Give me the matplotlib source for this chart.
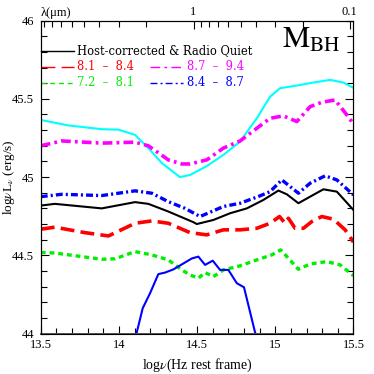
import numpy as np
import matplotlib
matplotlib.use("Agg")
import matplotlib.pyplot as plt
from matplotlib.ticker import MultipleLocator, FixedLocator

plt.rcParams['font.family'] = 'Liberation Serif'
plt.rcParams['mathtext.fontset'] = 'stix'
plt.rcParams['lines.scale_dashes'] = False

# SED curves: log nu (Hz), log nuL_nu (erg/s)
cyan_x = [13.5, 13.677, 13.89, 13.997, 14.103, 14.188, 14.274, 14.39, 14.456, 14.562,
          14.668, 14.775, 14.882, 14.967, 15.031, 15.138, 15.244, 15.351, 15.436, 15.5]
cyan_y = [45.365, 45.33, 45.306, 45.303, 45.27, 45.185, 45.09, 45.0, 45.014, 45.07,
          45.142, 45.227, 45.376, 45.514, 45.568, 45.585, 45.604, 45.621, 45.604, 45.57]

mag_x = [13.5, 13.634, 13.89, 14.103, 14.188, 14.316, 14.402, 14.455, 14.562, 14.668,
         14.775, 14.882, 14.967, 15.052, 15.138, 15.223, 15.298, 15.383, 15.458, 15.5]
mag_y = [45.2, 45.231, 45.217, 45.223, 45.2, 45.11, 45.084, 45.084, 45.11, 45.185,
         45.231, 45.312, 45.376, 45.391, 45.355, 45.45, 45.478, 45.493, 45.397, 45.34]

bdd_x = [13.5, 13.634, 13.89, 14.103, 14.21, 14.316, 14.423, 14.519, 14.668, 14.775,
         14.882, 14.967, 15.042, 15.148, 15.223, 15.319, 15.394, 15.5]
bdd_y = [44.875, 44.89, 44.882, 44.912, 44.897, 44.843, 44.8, 44.748, 44.812, 44.833,
         44.872, 44.907, 44.982, 44.897, 44.961, 45.008, 44.982, 44.886]

blk_x = [13.5, 13.59, 13.89, 14.103, 14.188, 14.316, 14.476, 14.498, 14.604, 14.711,
         14.818, 14.924, 15.02, 15.074, 15.148, 15.223, 15.308, 15.394, 15.5]
blk_y = [44.818, 44.829, 44.80, 44.84, 44.829, 44.78, 44.712, 44.70, 44.726, 44.769,
         44.80, 44.854, 44.914, 44.89, 44.833, 44.875, 44.922, 44.907, 44.79]

red_x = [13.5, 13.59, 13.783, 13.933, 14.103, 14.21, 14.316, 14.455, 14.562, 14.668,
         14.775, 14.882, 14.967, 15.027, 15.063, 15.084, 15.127, 15.18, 15.234, 15.298,
         15.372, 15.447, 15.5]
red_y = [44.667, 44.68, 44.645, 44.624, 44.705, 44.72, 44.705, 44.645, 44.631, 44.663,
         44.663, 44.673, 44.705, 44.748, 44.705, 44.737, 44.673, 44.673, 44.716, 44.748,
         44.731, 44.663, 44.585]

grn_x = [13.5, 13.59, 13.89, 13.975, 14.103, 14.21, 14.316, 14.402, 14.455, 14.508,
         14.551, 14.604, 14.668, 14.775, 14.882, 14.978, 15.035, 15.148, 15.223, 15.33,
         15.415, 15.5]
grn_y = [44.518, 44.515, 44.475, 44.478, 44.524, 44.503, 44.471, 44.407, 44.375, 44.354,
         44.39, 44.364, 44.407, 44.433, 44.471, 44.503, 44.535, 44.411, 44.445, 44.46,
         44.439, 44.37]

bsl_x = [14.1, 14.152, 14.199, 14.252, 14.295, 14.348, 14.466, 14.508, 14.551, 14.6,
         14.647, 14.7, 14.754, 14.8, 14.885]
bsl_y = [43.95, 44.162, 44.258, 44.38, 44.39, 44.41, 44.48, 44.492, 44.439, 44.466,
         44.407, 44.407, 44.322, 44.296, 43.95]

# top axis wavelengths (micron)
lam_major = [1.0, 0.1]
lam_labels = ['1', '0.1']
lam_minor = [9, 8, 7, 6, 5, 4, 3, 2, 0.9, 0.8, 0.7, 0.6, 0.5, 0.4, 0.3, 0.2]


def lam_to_lognu(lam):
    return np.log10(3e14 / np.asarray(lam, dtype=float))


fig = plt.figure(figsize=(3.74, 3.74), dpi=100)
ax = fig.add_axes([0.109, 0.108, 0.836, 0.837])

ax.plot(cyan_x, cyan_y, color='#00ffff', lw=1.5)
ax.plot(mag_x, mag_y, color='#ff00ff', lw=2.6, dashes=(7, 3, 2, 3))
ax.plot(bdd_x, bdd_y, color='#0000ff', lw=2.4, dashes=(5, 2.2, 1.5, 2.2))
ax.plot(blk_x, blk_y, color='black', lw=1.5)
ax.plot(red_x, red_y, color='#ff0000', lw=2.6, dashes=(10, 4.5))
ax.plot(grn_x, grn_y, color='#00ee00', lw=2.4, dashes=(3.5, 2.8))
ax.plot(bsl_x, bsl_y, color='#0000ff', lw=1.5)

ax.set_xlim(13.5, 15.5)
ax.set_ylim(44, 46)
ax.xaxis.set_major_locator(MultipleLocator(0.5))
ax.xaxis.set_minor_locator(MultipleLocator(0.1))
ax.yaxis.set_major_locator(MultipleLocator(0.5))
ax.yaxis.set_minor_locator(MultipleLocator(0.1))
ax.xaxis.set_major_formatter(plt.FuncFormatter(lambda v, p: '%g' % v))
ax.yaxis.set_major_formatter(plt.FuncFormatter(lambda v, p: '%g' % v))
ax.tick_params(which='both', direction='in', right=True, top=False, labelsize=9)
ax.tick_params(which='major', length=6, width=0.8)
ax.tick_params(which='minor', length=4, width=0.8)
ax.tick_params(axis='y', pad=5)
ax.tick_params(axis='x', pad=4)
ax.spines['bottom'].set_color('#555555')
ax.spines['bottom'].set_linewidth(1.4)
ax.set_xlabel(r'log$\nu$(Hz rest frame)', fontsize=10)
ax.set_ylabel(r'log$\nu$L$_\nu$ (erg/s)', fontsize=9.5)
ax.xaxis.set_label_coords(0.5, -0.075)
ax.yaxis.set_label_coords(-0.075, 0.5)

# wavelength axis on top
ax2 = ax.twiny()
ax2.set_xlim(13.5, 15.5)
ax2.xaxis.set_major_locator(FixedLocator(lam_to_lognu(lam_major)))
ax2.set_xticklabels(lam_labels)
ax2.xaxis.set_minor_locator(FixedLocator(lam_to_lognu(lam_minor)))
ax2.tick_params(which='both', direction='in', labelsize=9, pad=2)
ax2.tick_params(which='major', length=6, width=0.8)
ax2.tick_params(which='minor', length=4, width=0.8)
ax.text(0.0, 1.005, '\u03bb(\u03bcm)', transform=ax.transAxes, fontsize=9,
        ha='left', va='bottom')

# hand-made legend
lfont = dict(family='DejaVu Serif', size=8.3)
kw = dict(transform=ax.transAxes, clip_on=False, lw=1)
ax.plot([0.0, 0.105], [0.903, 0.903], color='black', **kw)
ax.text(0.117, 0.903, 'Host-corrected & Radio Quiet', transform=ax.transAxes,
        va='center', color='black', fontdict=lfont)
rows = [
    (0.0, 0.852, '#ff0000', (10, 4.5), '8.1 - 8.4'),
    (0.35, 0.852, '#ff00ff', (7, 3, 2, 3), '8.7 - 9.4'),
    (0.0, 0.801, '#00ee00', (3.5, 2.8), '7.2 - 8.1'),
    (0.35, 0.801, '#0000ff', (5, 2.2, 1.5, 2.2), '8.4 - 8.7'),
]
for x0, y0, c, d, lab in rows:
    ax.plot([x0, x0 + 0.105], [y0, y0], color=c, dashes=d, **kw)
    ax.text(x0 + 0.117, y0, lab.replace('-', ' \u2013 '), transform=ax.transAxes,
            va='center', color=c, fontdict=lfont)

ax.text(0.77, 0.913, r'$\mathrm{M}_{\mathrm{BH}}$', transform=ax.transAxes,
        fontsize=22, va='baseline', ha='left')

fig.savefig('out.png', dpi=100)
